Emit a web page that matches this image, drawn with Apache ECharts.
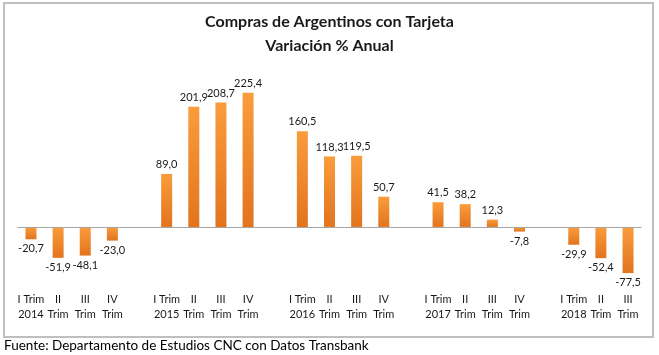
<!DOCTYPE html>
<html>
<head>
<meta charset="utf-8">
<script src="https://cdn.jsdelivr.net/npm/echarts@6/dist/echarts.min.js"></script>
<style>
html,body{margin:0;padding:0;background:#fff;}
#c{width:659px;height:355px;}
</style>
</head>
<body>
<div id="c"></div>
<script>
var categories = [
  "I Trim\n2014","II\nTrim","III\nTrim","IV\nTrim","",
  "I Trim\n2015","II\nTrim","III\nTrim","IV\nTrim","",
  "I Trim\n2016","II\nTrim","III\nTrim","IV\nTrim","",
  "I Trim\n2017","II\nTrim","III\nTrim","IV\nTrim","",
  "I Trim\n2018","II\nTrim","III\nTrim"
];
var values = [
  -20.7,-51.9,-48.1,-23.0,null,
  89.0,201.9,208.7,225.4,null,
  160.5,118.3,119.5,50.7,null,
  41.5,38.2,12.3,-7.8,null,
  -29.9,-52.4,-77.5
];
var titleText = "Compras de Argentinos con Tarjeta\nVariación % Anual";
var sourceText = "Fuente: Departamento de Estudios CNC con Datos Transbank";

var FONT = "Lato, 'Open Sans', sans-serif";
var chart = echarts.init(document.getElementById('c'), null, {renderer:'canvas'});

var barData = values.map(function(v){
  if (v === null) return null;
  return {value: v, label: {position: v < 0 ? 'bottom' : 'top'}};
});

chart.setOption({
  backgroundColor: '#fff',
  animation: false,
  title: {
    text: titleText,
    left: 'center',
    top: 5,
    textStyle: {fontFamily: FONT, fontSize: 16, fontWeight: 'bold', color: '#1a1a1a', lineHeight: 24}
  },
  graphic: [
    {type:'rect', shape:{x:4, y:3, width:649, height:334}, style:{fill:'none', stroke:'#bfbfbf', lineWidth:2}, z:-1},
    {type:'text', left:4, top:339, style:{text: sourceText, fontFamily: FONT, fontSize: 13.5, fill:'#000'}}
  ],
  grid: {left: 17.4, right: 17.4, top: 78, bottom: 68.5, containLabel: false},
  xAxis: {
    type: 'category',
    data: categories,
    axisLine: {show: false},
    axisTick: {show: false},
    axisLabel: {interval: 0, fontFamily: FONT, fontSize: 11, color: '#1a1a1a', lineHeight: 15, margin: 5}
  },
  yAxis: {
    type: 'value', min: -100, max: 250, interval: 50,
    show: false, splitLine: {show: false}
  },
  series: [{
    type: 'bar',
    data: barData,
    barWidth: 11,
    itemStyle: {
      color: new echarts.graphic.LinearGradient(0,0,0,1,[
        {offset:0, color:'#FA9C3C'},
        {offset:1, color:'#E2741E'}
      ])
    },
    label: {
      show: true,
      distance: 4,
      fontFamily: FONT, fontSize: 11, color: '#1a1a1a',
      formatter: function(p){ return p.value.toFixed(1).replace('.', ','); }
    },
    markLine: {
      silent: true, symbol: 'none', label: {show:false},
      lineStyle: {color:'#a6a6a6', type:'solid', width:1},
      data: [{yAxis: 0}]
    }
  }]
});
</script>
</body>
</html>
